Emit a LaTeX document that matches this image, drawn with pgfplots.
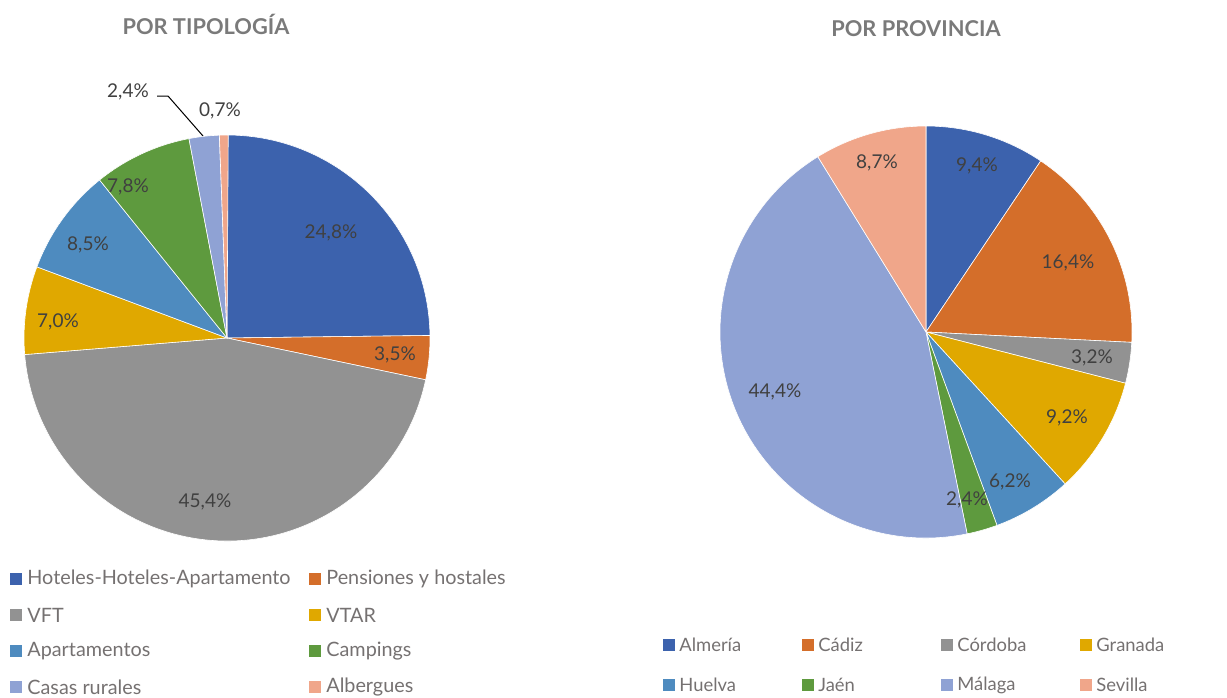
\documentclass[border=0pt]{standalone}
\usepackage{pgfplots}
\pgfplotsset{compat=1.18}
\usepackage{fontspec}
\setmainfont{Lato}
\definecolor{cA}{HTML}{3C62AD}
\definecolor{cB}{HTML}{D46E2A}
\definecolor{cC}{HTML}{929292}
\definecolor{cD}{HTML}{E0A800}
\definecolor{cE}{HTML}{4E8BBF}
\definecolor{cF}{HTML}{5E9A3E}
\definecolor{cG}{HTML}{8FA2D4}
\definecolor{cH}{HTML}{F0A68A}
\definecolor{lbl}{HTML}{404040}
\definecolor{leg}{HTML}{757171}
\definecolor{ttl}{HTML}{7A7A7A}
% \slice{cumulative start %}{share %}{colour}{radius}
\newcommand{\slice}[4]{%
  \fill[#3, draw=white, line width=0.3pt] (axis cs:0,0) -- (axis cs:{cos(90-3.6*#1)},{sin(90-3.6*#1)})
    arc[start angle={90-3.6*#1}, end angle={90-3.6*(#1+#2)}, radius=#4] -- cycle;}
\begin{document}
\begin{tikzpicture}
\path[use as bounding box] (0,0) rectangle (613.5pt,-348.5pt);
% ---------- left pie ----------
\begin{axis}[at={(113.5pt,-169pt)}, anchor=center, width=203pt, height=203pt,
  scale only axis, hide axis, xmin=-1, xmax=1, ymin=-1, ymax=1, clip=false]
  \slice{0}{24.8}{cA}{101.5pt}
  \slice{24.8}{3.5}{cB}{101.5pt}
  \slice{28.3}{45.4}{cC}{101.5pt}
  \slice{73.7}{7.0}{cD}{101.5pt}
  \slice{80.7}{8.5}{cE}{101.5pt}
  \slice{89.2}{7.8}{cF}{101.5pt}
  \slice{97.0}{2.4}{cG}{101.5pt}
  \slice{99.4}{0.7}{cH}{101.5pt}
\end{axis}
% ---------- right pie ----------
\begin{axis}[at={(463pt,-166pt)}, anchor=center, width=206pt, height=206pt,
  scale only axis, hide axis, xmin=-1, xmax=1, ymin=-1, ymax=1, clip=false]
  \slice{0}{9.4}{cA}{103pt}
  \slice{9.4}{16.4}{cB}{103pt}
  \slice{25.8}{3.2}{cC}{103pt}
  \slice{29.0}{9.2}{cD}{103pt}
  \slice{38.2}{6.2}{cE}{103pt}
  \slice{44.4}{2.4}{cF}{103pt}
  \slice{46.8}{44.4}{cG}{103pt}
  \slice{91.2}{8.8}{cH}{103pt}
\end{axis}
\begin{scope}[x=0.5pt, y=-0.5pt]
% titles
\node[text=ttl, font=\fontsize{10.9pt}{13pt}\selectfont\bfseries] at (206,24) {POR TIPOLOGÍA};
\node[text=ttl, font=\fontsize{10.9pt}{13pt}\selectfont\bfseries] at (916,29) {POR PROVINCIA};
% data labels
\begin{scope}[every node/.style={text=lbl, font=\fontsize{9.5pt}{11pt}\selectfont}]
\node at (331,233) {24,8\%};
\node at (395,355) {3,5\%};
\node at (205,502) {45,4\%};
\node at (58,322) {7,0\%};
\node at (88,245) {8,5\%};
\node at (128,187) {7,8\%};
\node at (128,92) {2,4\%};
\node at (220,111) {0,7\%};
\draw[black, line width=0.5pt] (157,96) -- (168,96) -- (203,136);
\node at (977,166) {9,4\%};
\node at (1068,263) {16,4\%};
\node at (1092,358) {3,2\%};
\node at (1067,418) {9,2\%};
\node at (1010,482) {6,2\%};
\node at (967,500) {2,4\%};
\node at (775,392) {44,4\%};
\node at (877,163) {8,7\%};
\end{scope}
% legends
\begin{scope}[every node/.style={text=leg, anchor=west, inner sep=0pt, font=\fontsize{9.9pt}{11pt}\selectfont}]
\foreach \x/\y/\c/\t in {10/579/cA/Hoteles-Hoteles-Apartamento, 309/579/cB/Pensiones y hostales,
  10/615/cC/VFT, 309/615/cD/VTAR, 10/651/cE/Apartamentos, 309/651/cF/Campings,
  10/687/cG/Casas rurales, 309/687/cH/Albergues}
{
  \fill[\c] (\x,\y-6) rectangle ++(12,12);
  \node at (\x+17,\y) {\t};
}
\end{scope}
\begin{scope}[every node/.style={text=leg, anchor=west, inner sep=0pt, font=\fontsize{9.2pt}{11pt}\selectfont}]
\foreach \x/\y/\c/\t in {663/645/cA/Almería, 802/645/cB/Cádiz, 941/645/cC/Córdoba, 1080/645/cD/Granada,
  663/685/cE/Huelva, 802/685/cF/Jaén, 941/685/cG/Málaga, 1080/685/cH/Sevilla}
{
  \fill[\c] (\x,\y-6) rectangle ++(12,12);
  \node at (\x+16,\y) {\t};
}
\end{scope}
\end{scope}
\end{tikzpicture}
\end{document}
